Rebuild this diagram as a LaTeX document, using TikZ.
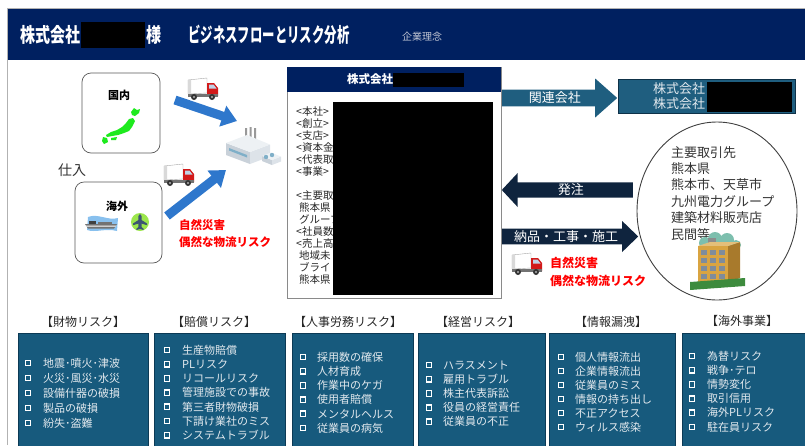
\documentclass[tikz,border=0pt]{standalone}
\usepackage{fontspec}
\setmainfont{Noto Sans CJK JP}
\usepackage{graphicx}
\usetikzlibrary{arrows.meta,positioning,shapes.arrows,shapes.geometric}

\definecolor{hdnavy}{HTML}{002060}
\definecolor{relteal}{HTML}{1F5E7F}
\definecolor{reldark}{HTML}{0E3148}
\definecolor{ordnavy}{HTML}{0F243E}
\definecolor{panelfill}{HTML}{175A7D}
\definecolor{panelline}{HTML}{0C3A55}
\definecolor{itemtxt}{HTML}{E2E9EE}
\definecolor{hdgray}{HTML}{C2C6D4}
\definecolor{boxgray}{HTML}{8A8A8A}
\definecolor{arrblue}{HTML}{2E77CC}
\definecolor{cabred}{HTML}{D21A1A}
\definecolor{cabwin}{HTML}{BFD3E6}
\definecolor{mapgreen}{HTML}{1EEA1E}
\definecolor{seablue}{HTML}{6AB0EA}
\definecolor{planegrn}{HTML}{9CE64C}
\definecolor{planeslate}{HTML}{3C5573}
\definecolor{factop}{HTML}{EDF1F4}
\definecolor{facleft}{HTML}{C9D1D9}
\definecolor{facright}{HTML}{DDE3E9}
\definecolor{facwin}{HTML}{7FAFC8}
\definecolor{cloudgrn}{HTML}{7DBFAE}
\definecolor{bldyel}{HTML}{D9A441}
\definecolor{bldside}{HTML}{A87A2C}
\definecolor{bldwin}{HTML}{7E8C9C}
\definecolor{lawngrn}{HTML}{3D8B3D}

\begin{document}
\begin{tikzpicture}[
    x=1pt, y=-1pt,
    font=\fontsize{11}{13}\selectfont,
    panel/.style={
        draw=panelline, fill=panelfill,
        line width=0.8pt, inner sep=0pt,
        anchor=north west,
        minimum height=120pt
    },
    phead/.style={
        font=\fontsize{12}{14}\selectfont,
        text=black!85, inner sep=0pt
    },
    bul/.style={
        draw=white, line width=1.3pt,
        inner sep=0pt, minimum size=5.5pt
    },
    item/.style={
        anchor=west, inner sep=0pt,
        text=itemtxt
    },
    place/.style={
        draw=black!65, line width=0.7pt,
        rounded corners=9pt, inner sep=0pt
    },
    redtxt/.style={
        anchor=west, inner sep=0pt, text=red,
        font=\bfseries\fontsize{11.5}{13}\selectfont
    },
    banner text/.style={
        anchor=west, inner sep=0pt, text=white,
        font=\bfseries\fontsize{20}{22}\selectfont
    },
    blockarr/.style={
        single arrow, single arrow head indent=0pt,
        inner sep=1pt, text=white, anchor=tail,
        font=\fontsize{13}{15}\selectfont
    },
    bluearr/.style={
        draw=arrblue, line width=9pt,
        -{Triangle[width=21pt,length=15pt]}
    },
    hidden/.style={
        fill=black, inner sep=0pt
    },
    truck/.pic={
        \filldraw[fill=white, draw=black!35, line width=0.4pt] (0,2) -- (19,0) -- (19,15) -- (0,16) -- cycle;
        \fill[black!15] (0,2) -- (3,1.7) -- (3,15.7) -- (0,16) -- cycle;
        \fill[cabred] (19,5) -- (26,5) -- (30,10) -- (30,18) -- (19,18) -- cycle;
        \fill[cabwin] (21,6.5) -- (25.5,6.5) -- (28.5,10.5) -- (21,10.5) -- cycle;
        \fill[black!55] (0,16) rectangle (30,18.5);
        \fill[black!80] (6,19) circle (3) (24,19) circle (3);
        \fill[black!30] (6,19) circle (1.2) (24,19) circle (1.2);
    }
]

\useasboundingbox (0,0) rectangle (805,445);
\clip (0,0) rectangle (805,445);

% banner
\draw[black!30] (7,445) -- (7,8) -- (805,8);
\node[fill=hdnavy, minimum width=797pt, minimum height=51pt, inner sep=0pt] (banner) at (406.5,34.5) {};
\node[banner text] (client name) at (20,35) {\scalebox{0.75}[1]{株式会社}};
\node[hidden, minimum width=64pt, minimum height=26pt] (hid1) at (113,35) {};
\node[banner text, right=1pt of hid1] (sama) {\scalebox{0.75}[1]{様}};
\node[banner text] (title) at (188,35) {\scalebox{0.62}[1]{ビジネスフローとリスク分析}};
\node[anchor=west, inner sep=0pt, text=hdgray, font=\fontsize{10}{12}\selectfont] (rinen) at (402,37) {企業理念};

% purchasing side
\node[place, minimum width=78pt, minimum height=80pt] (kokunai) at (121,113) {};
\node[inner sep=0pt, font=\bfseries\fontsize{11}{13}\selectfont] (kokunailbl) at (119,95) {国内};
\node[place, minimum width=87pt, minimum height=81pt] (kaigai) at (118.5,222.5) {};
\node[inner sep=0pt, font=\bfseries\fontsize{11}{13}\selectfont] (kaigailbl) at (117,206) {海外};
\node[inner sep=0pt, text=black!80, font=\fontsize{14}{16}\selectfont] (shiire) at (72,170) {仕入};

% map of Japan
\fill[mapgreen] (131,112) -- (134,108) -- (137,110) -- (140,109) -- (139,113) -- (135,116) -- (132,115) -- cycle;
\fill[mapgreen] (133,118) -- (135,121) -- (132,127) -- (129,131) -- (124,133) -- (118,135) -- (112,136) -- (107,137)
    -- (106,135) -- (111,132) -- (117,130) -- (122,127) -- (126,123) -- (129,119) -- cycle;
\fill[mapgreen] (103,137) -- (107,138) -- (108,142) -- (104,144) -- (102,141) -- cycle;
\fill[mapgreen] (111,138) -- (117,137) -- (116,140) -- (111,140) -- cycle;

% ship and plane
\fill[seablue, opacity=0.8] (88,217) .. controls (98,213) and (108,221) .. (118,218) -- (117,231) .. controls (105,228) and (96,233) .. (87,230) -- cycle;
\fill[black!55] (85,224) -- (117,224) -- (114,228.5) -- (88,228.5) -- cycle;
\fill[white] (86,225.5) -- (116,225.5) -- (115.5,226.5) -- (86.5,226.5) -- cycle;
\fill[black!75] (89,220.5) rectangle (96,224);
\fill[black!55] (98,222) rectangle (112,224);
\fill[planegrn] (140,222) circle (9);
\fill[planeslate] (140,214) -- (141.6,216) -- (141.6,220) -- (147,223.5) -- (147,225.2) -- (141.6,223.6) -- (141.6,227)
    -- (143.6,228.8) -- (143.6,230) -- (140,229) -- (136.4,230) -- (136.4,228.8) -- (138.4,227) -- (138.4,223.6)
    -- (133,225.2) -- (133,223.5) -- (138.4,220) -- (138.4,216) -- cycle;

% trucks
\pic at (188,78) {truck};
\pic at (164,164) {truck};
\pic at (512,253) {truck};

% factory
\fill[black!40] (245,128) rectangle (247,140) (249.5,127) rectangle (251.5,139) (254,128) rectangle (256,140);
\fill[facleft] (226,143) -- (250,152) -- (250,164) -- (226,155) -- cycle;
\fill[facright] (250,152) -- (270,144.5) -- (270,156.5) -- (250,164) -- cycle;
\fill[factop] (226,143) -- (247,135) -- (270,144.5) -- (250,152) -- cycle;
\fill[facwin] (229,148) -- (247,155) -- (247,157.5) -- (229,150.5) -- cycle;
\fill[facleft] (262,156) -- (272,160) -- (272,165) -- (262,161) -- cycle;
\fill[facright] (272,160) -- (281,156.5) -- (281,161.5) -- (272,165) -- cycle;
\fill[factop] (262,156) -- (271,152.5) -- (281,156.5) -- (272,160) -- cycle;
\fill[facwin] (266,157) circle (2.2) (272,155) circle (2.2);
\coordinate (a1s) at (175,100);
\coordinate (a1e) at (237,121);
\coordinate (a2s) at (167,216);
\coordinate (a2e) at (226,170);
\draw[bluearr] (a1s) -- (a1e);
\draw[bluearr] (a2s) -- (a2e);
\node[redtxt] (risk1a) at (179,225) {自然災害};
\node[redtxt] (risk1b) at (179,242) {偶然な物流リスク};

% company profile
\node[draw=boxgray, line width=0.8pt, minimum width=214pt, minimum height=231pt, inner sep=0pt] (corp) at (394,182.5) {};
\node[fill=hdnavy, minimum width=214pt, minimum height=25pt, inner sep=0pt, anchor=north] (corphead) at (corp.north) {};
\node[anchor=west, inner sep=0pt, text=white, font=\bfseries\fontsize{11.5}{13}\selectfont] (corptitle) at (347,79.5) {株式会社};
\node[hidden, minimum width=71pt, minimum height=14pt] (hid2) at (428.5,80) {};
\node[anchor=north west, align=left, inner sep=0pt, text=black!85, font=\fontsize{10.5}{12}\selectfont] (corpinfo) at (296,106.5)
    {<本社>\\<創立>\\<支店>\\<資本金\\<代表取\\<事業>\\[12pt]<主要取\\\hspace*{3pt}熊本県\\\hspace*{3pt}グループ\\<社員数\\<売上高\\\hspace*{3pt}地域未\\\hspace*{3pt}ブライト\\\hspace*{3pt}熊本県};
\node[hidden, minimum width=160pt, minimum height=193pt] (hid3) at (413,198.5) {};

% related companies and customers
\node[blockarr, fill=relteal, minimum height=115pt, minimum width=39pt, single arrow head extend=9.5pt, single arrow tip angle=83] (relarrow) at (502,98) {関連会社};
\node[draw=reldark, fill=relteal, line width=0.8pt, minimum width=177pt, minimum height=34pt, inner sep=0pt] (relbox) at (706.5,96) {};
\node[anchor=west, align=left, inner sep=0pt, text=itemtxt, font=\fontsize{13}{15}\selectfont] (relnames) at (653,96.5) {株式会社\\株式会社};
\node[hidden, minimum width=85pt, minimum height=30pt] (hid4) at (749.5,97) {};

\node[ellipse, draw=black!75, line width=0.9pt, minimum width=160pt, minimum height=178pt, inner sep=0pt] (client) at (717,211) {};
\node[anchor=north west, align=left, inner sep=0pt, text=black!80, font=\fontsize{13}{16.4}\selectfont] (clientlist) at (671,146)
    {主要取引先\\熊本県\\熊本市、天草市\\九州電力グループ\\建築材料販売店\\民間等};

\node[blockarr, fill=ordnavy, shape border rotate=180, minimum height=131pt, minimum width=34pt, single arrow head extend=9pt, single arrow tip angle=94] (order) at (633,190) {発注};
\node[blockarr, fill=ordnavy, minimum height=136pt, minimum width=31pt, single arrow head extend=7pt, single arrow tip angle=88] (deliver) at (502,236.5) {納品・工事・施工};
\node[redtxt, font=\bfseries\fontsize{12}{14}\selectfont] (risk2a) at (550,263) {自然災害};
\node[redtxt, font=\bfseries\fontsize{12}{14}\selectfont] (risk2b) at (550,281) {偶然な物流リスク};

% customer building
\fill[cloudgrn] (705,243) circle (6) (715,239) circle (7) (727,240) circle (7) (736,245) circle (5);
\fill[black!45] (708,238) rectangle (716,243);
\fill[bldside] (728,246) -- (740,242) -- (740,278) -- (728,282) -- cycle;
\fill[bldyel!70!white] (698,246) -- (710,242) -- (740,242) -- (728,246) -- cycle;
\fill[bldyel] (698,246) rectangle (728,282);
\foreach \wx in {701,710,719}
    \foreach \wy in {250,258,266,274}
        \fill[bldwin] (\wx,\wy) rectangle ++(6,5);
\fill[lawngrn] (690,282) -- (745,278) -- (745,286) -- (690,290) -- cycle;

% risk panels
\node[panel, minimum width=130pt] (zai) at (18,333) {};
\node[panel, minimum width=131pt] (bai) at (154,333) {};
\node[panel, minimum width=121pt] (jin) at (292,333) {};
\node[panel, minimum width=127pt] (kei) at (418,333) {};
\node[panel, minimum width=126pt] (joh) at (549,333) {};
\node[panel, minimum width=130pt] (kai) at (682,333) {};

\node[phead] (zaihd) at (83,322) {【財物リスク】};
\node[phead] (baihd) at (214,322) {【賠償リスク】};
\node[phead] (jinhd) at (348,322) {【人事労務リスク】};
\node[phead] (keihd) at (478,322) {【経営リスク】};
\node[phead] (johhd) at (611,322) {【情報漏洩】};
\node[phead] (kaihd) at (742,321) {【海外事業】};

\foreach \txt [count=\i from 0] in {地震･噴火･津波, 火災･風災･水災, 設備什器の破損, 製品の破損, 紛失･盗難} {
    \node[bul] (zaib\i) at (28,{363+15*\i}) {};
    \node[item] (zait\i) at (43,{363+15*\i}) {\txt};
}
\foreach \txt [count=\i from 0] in {生産物賠償, PLリスク, リコールリスク, 管理施設での事故, 第三者財物破損, 下請け業社のミス, システムトラブル} {
    \node[bul] (baib\i) at (167,{350+14.2*\i}) {};
    \node[item] (bait\i) at (182,{350+14.2*\i}) {\txt};
}
\foreach \txt [count=\i from 0] in {採用数の確保, 人材育成, 作業中のケガ, 使用者賠償, メンタルヘルス, 従業員の病気} {
    \node[bul] (jinb\i) at (303,{357+14.2*\i}) {};
    \node[item] (jint\i) at (317,{357+14.2*\i}) {\txt};
}
\foreach \txt [count=\i from 0] in {ハラスメント, 雇用トラブル, 株主代表訴訟, 役員の経営責任, 従業員の不正} {
    \node[bul] (keib\i) at (429,{365+14.2*\i}) {};
    \node[item] (keit\i) at (443,{365+14.2*\i}) {\txt};
}
\foreach \txt [count=\i from 0] in {個人情報流出, 企業情報流出, 従業員のミス, 情報の持ち出し, 不正アクセス, ウィルス感染} {
    \node[bul] (johb\i) at (561,{357+14*\i}) {};
    \node[item] (joht\i) at (575,{357+14*\i}) {\txt};
}
\foreach \txt [count=\i from 0] in {為替リスク, 戦争･テロ, 情勢変化, 取引信用, 海外PLリスク, 駐在員リスク} {
    \node[bul] (kaib\i) at (692,{356+14.2*\i}) {};
    \node[item] (kait\i) at (707,{356+14.2*\i}) {\txt};
}

\end{tikzpicture}
\end{document}
